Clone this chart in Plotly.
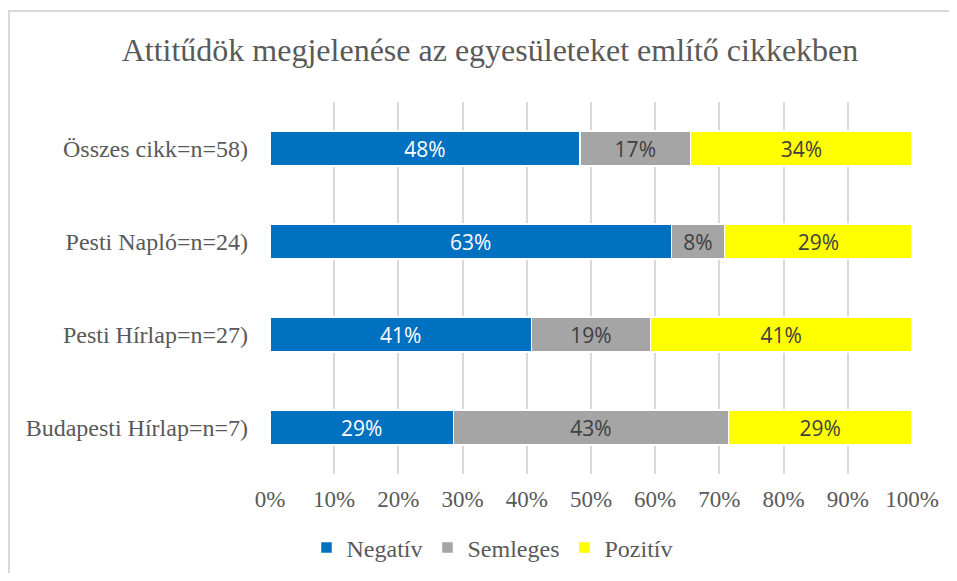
import plotly.graph_objects as go

categories = ["Összes cikk=n=58)", "Pesti Napló=n=24)", "Pesti Hírlap=n=27)", "Budapesti Hírlap=n=7)"]
negativ = [48.28, 62.50, 40.74, 28.57]
semleges = [17.24, 8.33, 18.52, 42.86]
pozitiv = [34.48, 29.17, 40.74, 28.57]
series_names = ["Negatív", "Semleges", "Pozitív"]
colors = ["#0070C0", "#A5A5A5", "#FFFF00"]
label_colors = ["#FFFFFF", "#404040", "#404040"]
x_ticks = list(range(0, 101, 10))
x_tick_labels = [f"{v}%" for v in x_ticks]

# page body has an 8px margin; figure is sized/placed to compensate
W, H = 941, 565
L, R, T, B = 262, 37, 94, 99
PW, PH = W - L - R, H - T - B


def px(fx):
    return (fx - L) / PW


def py(fy):
    return (H - B - fy) / PH


fig = go.Figure()
for name, vals, col, lc in zip(series_names, [negativ, semleges, pozitiv], colors, label_colors):
    fig.add_trace(go.Bar(
        y=categories, x=vals, name=name, orientation="h",
        marker=dict(color=col, line=dict(color="#FFFFFF", width=1.5)),
        texttemplate="%{x:.0f}%", textposition="inside", insidetextanchor="middle",
        textfont=dict(family="Open Sans", size=21, color=lc),
        constraintext="none",
    ))

fig.update_layout(
    barmode="stack",
    bargap=0.62,
    width=W, height=H,
    margin=dict(l=L, r=R, t=T, b=B, autoexpand=False),
    paper_bgcolor="white", plot_bgcolor="white",
    title=dict(text="Attitűdök megjelenése az egyesületeket említő cikkekben",
               x=482 / W, xref="container", xanchor="center",
               y=1 - 42 / H, yref="container", yanchor="middle",
               font=dict(family="Liberation Serif", size=32, color="#595959")),
    xaxis=dict(range=[0, 100], tickvals=x_ticks, ticktext=x_tick_labels,
               showgrid=True, gridcolor="#D9D9D9", gridwidth=2,
               zeroline=False, showline=False,
               tickfont=dict(family="Liberation Serif", size=23, color="#595959"),
               ticklabelstandoff=9, fixedrange=True),
    yaxis=dict(autorange="reversed", showgrid=False, showline=False,
               tickfont=dict(family="Liberation Serif", size=24, color="#595959"),
               ticklabelstandoff=21),
    legend=dict(orientation="h", xref="container", x=484 / W, xanchor="center",
                yref="container", y=1 - 540 / H, yanchor="middle",
                font=dict(family="Liberation Serif", size=24, color="#595959"),
                traceorder="normal", itemwidth=30),
    showlegend=True,
    shapes=[
        dict(type="line", xref="paper", yref="paper",
             x0=px(0), x1=px(W), y0=py(3), y1=py(3),
             line=dict(color="#D9D9D9", width=2)),
        dict(type="line", xref="paper", yref="paper",
             x0=px(1), x1=px(1), y0=py(3), y1=py(H),
             line=dict(color="#D9D9D9", width=2)),
    ],
)

fig.write_html("out.html")
